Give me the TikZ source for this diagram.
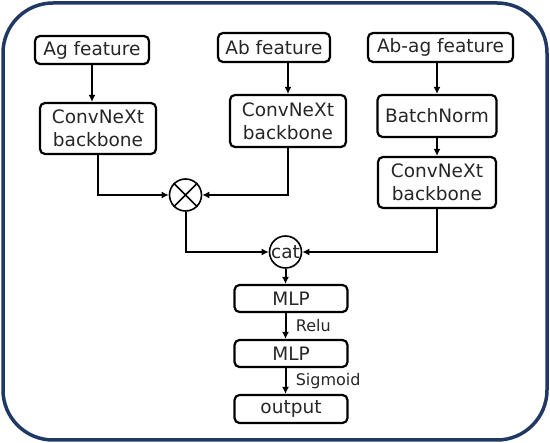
\documentclass[tikz,border=0pt]{standalone}
\usepackage{fontspec}
\setmainfont{DejaVu Sans}
\usetikzlibrary{positioning,arrows.meta}
\definecolor{framenavy}{HTML}{1F3864}

\begin{document}
\begin{tikzpicture}[x=1pt,y=-1pt,>={Latex[length=7pt,width=7pt]},
  box/.style={draw,line width=2.2pt,rounded corners=5pt,align=center,inner sep=1pt,
    font=\fontsize{18.5}{23}\selectfont,text=black!85},
  op/.style={draw,circle,line width=1.6pt,inner sep=0pt,minimum size=32pt,
    font=\fontsize{18.5}{20}\selectfont,text=black!85},
  lbl/.style={font=\fontsize{16}{18}\selectfont,text=black!85,anchor=west},
  flow/.style={->,line width=2pt}]
\useasboundingbox (0,0) rectangle (550,443);
\draw[framenavy,line width=3.5pt,rounded corners=50pt] (3,3) rectangle (547,440);

\node[box,minimum width=114pt,minimum height=28pt] (ag) at (92,50) {Ag feature};
\node[box,minimum width=112pt,minimum height=29pt] (ab) at (274,47.5) {Ab feature};
\node[box,minimum width=145pt,minimum height=29pt] (abag) at (440.5,47.5) {Ab-ag feature};

\node[box,minimum width=116pt,minimum height=51pt] (convag) at (98,128.5) {ConvNeXt\\backbone};
\node[box,minimum width=116pt,minimum height=52pt] (convab) at (288,121) {ConvNeXt\\backbone};
\node[box,minimum width=119pt,minimum height=42pt] (bn) at (437,116) {BatchNorm};
\node[box,minimum width=118pt,minimum height=51pt] (convabag) at (437,182.5) {ConvNeXt\\backbone};

\node[op] (mul) at (185.5,195) {};
\draw[line width=1.6pt] (mul.north west) -- (mul.south east) (mul.north east) -- (mul.south west);
\node[op] (cat) at (285.5,252) {cat};

\node[box,minimum width=113pt,minimum height=27pt] (mlpa) at (291,298.5) {MLP};
\node[box,minimum width=113pt,minimum height=27pt] (mlpb) at (291,353.5) {MLP};
\node[box,minimum width=113pt,minimum height=28pt] (out) at (291,409) {output};

\draw[flow] (ag) -- (ag |- convag.north);
\draw[flow] (ab.south -| convab) -- (convab);
\draw[flow] (abag.south -| bn) -- (bn);
\draw[flow] (bn) -- (convabag);
\draw[flow] (convag.south) |- (mul.west);
\draw[flow] (convab.south) |- (mul.east);
\draw[flow] (mul.south) |- (cat.west);
\draw[flow] (convabag.south) |- (cat.east);
\draw[flow] (cat.south) -- (cat.south |- mlpa.north);
\draw[flow] (mlpa.south -| cat) -- (mlpb.north -| cat) node[lbl,midway,xshift=6pt] {Relu};
\draw[flow] (mlpb.south -| cat) -- (out.north -| cat) node[lbl,midway,xshift=6pt] {Sigmoid};
\end{tikzpicture}
\end{document}
